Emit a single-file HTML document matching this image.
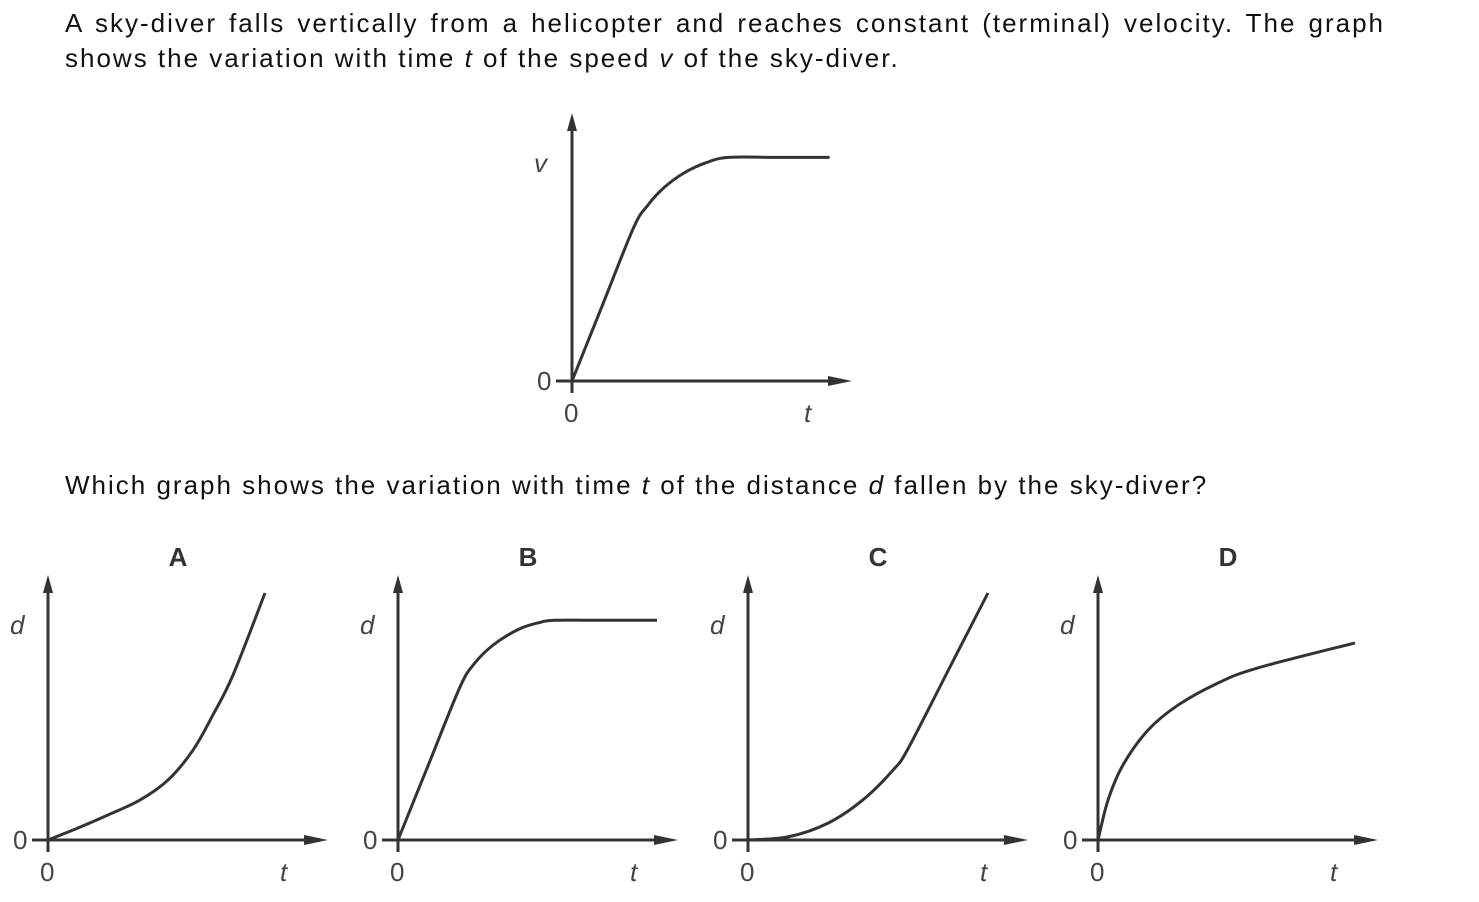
<!DOCTYPE html>
<html><head><meta charset="utf-8">
<style>
html,body{margin:0;padding:0;background:#fff;}
body{width:1479px;height:902px;overflow:hidden;position:relative;font-family:"Liberation Sans",Arial,sans-serif;color:#111;}
.q{position:absolute;left:65px;font-size:26px;line-height:35px;letter-spacing:2px;}
svg{position:absolute;left:0;top:0;}
</style></head><body>
<div class="q" style="top:6px;width:1320px;text-align:justify;">A sky-diver falls vertically from a helicopter and reaches constant (terminal) velocity. The graph shows the variation with time <i>t</i> of the speed <i>v</i> of the sky-diver.</div>
<div class="q" style="top:468px;white-space:nowrap;">Which graph shows the variation with time <i>t</i> of the distance <i>d</i> fallen by the sky-diver?</div>
<svg id="chart" width="1479" height="902"></svg>
<script>
// Data (t units 0..10, value units 0..10)
const mainT = [0, 1.1, 2.2, 2.7, 3.3, 4.0, 4.8, 5.6, 7.4, 9.2];
const mainV = [0, 2.95, 5.9, 6.75, 7.45, 8.0, 8.4, 8.6, 8.6, 8.6];
const aT = [0, 1.07, 2.14, 3.29, 4.29, 5.18, 5.89, 6.61, 7.75];
const aD = [0, 0.46, 0.96, 1.54, 2.31, 3.46, 4.81, 6.35, 9.5];
const bT = [0, 1.1, 2.2, 2.7, 3.4, 4.3, 5.0, 5.6, 7.4, 9.25];
const bD = [0, 2.93, 5.85, 6.75, 7.5, 8.1, 8.35, 8.45, 8.45, 8.45];
const cT = [0, 1.43, 2.86, 4.1, 5.18, 5.71, 7.14, 8.57];
const cD = [0, 0.12, 0.65, 1.54, 2.69, 3.5, 6.5, 9.5];
const dT = [0, 0.36, 0.89, 1.79, 2.86, 4.29, 5.71, 9.18];
const dD = [0, 1.54, 2.88, 4.23, 5.19, 6.04, 6.62, 7.58];
const letters = ["A", "B", "C", "D"];
const originsX = [48, 398, 748, 1098];

const NS = "http://www.w3.org/2000/svg";
const svg = document.getElementById("chart");
const SX = 28, SY = 26;
const COL = "#333";
function mk(tag, attrs){const e=document.createElementNS(NS,tag);for(const k in attrs)e.setAttribute(k,attrs[k]);svg.appendChild(e);return e;}
function txt(x,y,s,opts){const e=mk("text",Object.assign({x:x,y:y,"font-family":"Liberation Sans, Arial, sans-serif","font-size":26,fill:"#444"},opts||{}));e.textContent=s;return e;}
function path(ox,oy,ts,vs){
  const p=ts.map((t,i)=>[ox+t*SX, oy-vs[i]*SY]);
  let d="M"+p[0][0]+","+p[0][1];
  for(let i=0;i<p.length-1;i++){
    const p0=p[Math.max(0,i-1)],p1=p[i],p2=p[i+1],p3=p[Math.min(p.length-1,i+2)];
    const c1=[p1[0]+(p2[0]-p0[0])/6,p1[1]+(p2[1]-p0[1])/6];
    const c2=[p2[0]-(p3[0]-p1[0])/6,p2[1]-(p3[1]-p1[1])/6];
    d+=" C"+c1[0]+","+c1[1]+" "+c2[0]+","+c2[1]+" "+p2[0]+","+p2[1];
  }
  return d;
}
function graph(ox,oy,top,right,ts,vs,ylab,name){
  const ya=mk("line",{x1:ox,y1:oy+12,x2:ox,y2:top+14,stroke:COL,"stroke-width":3});
  
  
  const yh=mk("polygon",{points:`${ox-5},${top+18} ${ox},${top} ${ox+5},${top+18}`,fill:COL});
  
  
  const xa=mk("line",{x1:ox-16,y1:oy,x2:right-18,y2:oy,stroke:COL,"stroke-width":3});
  
  
  const xh=mk("polygon",{points:`${right-24},${oy-5} ${right},${oy} ${right-24},${oy+5}`,fill:COL});
  
  
  const c=mk("path",{d:path(ox,oy,ts,vs),fill:"none",stroke:COL,"stroke-width":3,"stroke-linejoin":"round"});
  
  
  const z1=txt(ox-35,oy+9,"0");
  
  
  const z2=txt(ox-8,oy+41,"0");
  
  
  const tl=txt(ox+232,oy+41,"t",{"font-style":"italic"});
  
  
  const yl=txt(ox-38,top+59,ylab,{"font-style":"italic"});
  
  
}
graph(572,381,113,852,mainT,mainV,"v","velocity-graph");
const sets=[[aT,aD],[bT,bD],[cT,cD],[dT,dD]];
sets.forEach((s,i)=>{
  const ox=originsX[i];
  graph(ox,840,575,ox+280,s[0],s[1],"d","graph-"+letters[i].toLowerCase());
  const L=txt(ox+130,566,letters[i],{"font-weight":"bold","text-anchor":"middle",fill:"#333"});
  
  
});
</script>
</body></html>
